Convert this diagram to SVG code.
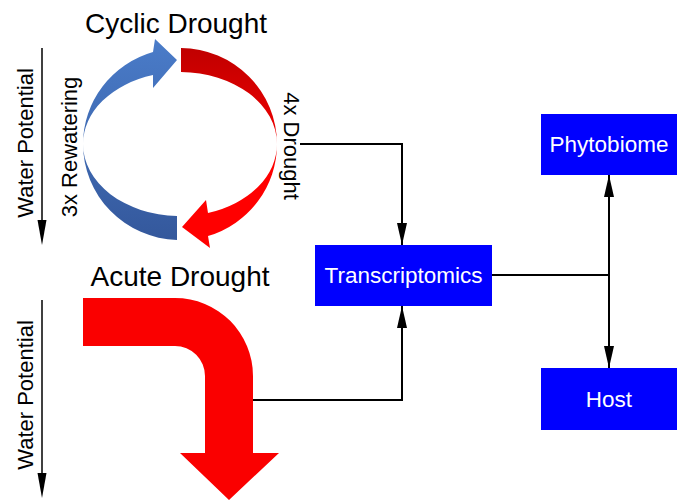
<svg xmlns="http://www.w3.org/2000/svg" width="682" height="500" viewBox="0 0 682 500">
<style>
text{font-family:"Liberation Sans",Arial,sans-serif;}
.t{font-size:28px;fill:#000;text-anchor:middle;}
.s{font-size:22px;fill:#000;text-anchor:middle;}
.b{font-size:22.5px;fill:#fff;text-anchor:middle;}
.box{fill:#0000ff;}
.ln{fill:none;stroke:#000;stroke-width:2;}
</style>
<defs>
<marker id="ah" viewBox="0 0 22 10" refX="22" refY="5" markerWidth="22" markerHeight="10" markerUnits="userSpaceOnUse" orient="auto">
<path d="M0,0 L22,5 L0,10 Z" fill="#000"/>
</marker>
<linearGradient id="gb" x1="0" y1="0" x2="0" y2="1">
<stop offset="0" stop-color="#4a7cc9"/>
<stop offset="1" stop-color="#34589c"/>
</linearGradient>
<linearGradient id="gr" x1="0" y1="0" x2="0" y2="1">
<stop offset="0" stop-color="#c00000"/>
<stop offset="0.6" stop-color="#ff0000"/>
<stop offset="1" stop-color="#ff0000"/>
</linearGradient>
</defs>

<g id="cyclic">
<text class="t" x="176" y="33">Cyclic Drought</text>
<path d="M177,240 A97,96 0 0 1 83,144 A97,96 0 0 1 153,52 L155,39 L177,60 L153,88 L153,75 A97,72 0 0 0 83,144 A97,72 0 0 0 177,216 Z" fill="url(#gb)"/>
<path d="M181,48 A97,96 0 0 1 277,144 A97,96 0 0 1 208,236 L210,248 L182,227 L206,200 L208,213 A97,72 0 0 0 277,144 A97,72 0 0 0 181,72 Z" fill="url(#gr)"/>
<text class="s" transform="translate(77,147) rotate(-90)">3x Rewatering</text>
<text class="s" transform="translate(284,146) rotate(90)">4x Drought</text>
<text class="s" transform="translate(33,143) rotate(-90)">Water Potential</text>
<line x1="42" y1="48" x2="42" y2="225" stroke="#000" stroke-width="1.5"/>
<path d="M37.5,220 L46.5,220 L42,245 Z" fill="#000"/>
</g>

<g id="acute">
<text class="t" x="180" y="286">Acute Drought</text>
<path d="M83,298 L175,298 A78,78 0 0 1 253,376 L253,453 L279,453 L229,500 L180,453 L205,453 L205,376 A30,30 0 0 0 175,346 L83,346 Z" fill="#fa0000"/>
<text class="s" transform="translate(33,395) rotate(-90)">Water Potential</text>
<line x1="42" y1="300" x2="42" y2="478" stroke="#000" stroke-width="1.5"/>
<path d="M37.5,473 L46.5,473 L42,498 Z" fill="#000"/>
</g>

<g id="transcriptomics">
<rect class="box" x="315" y="245" width="177" height="61"/>
<text class="b" x="403.5" y="283">Transcriptomics</text>
</g>
<g id="phytobiome">
<rect class="box" x="541" y="114" width="136" height="61"/>
<text class="b" x="609" y="152">Phytobiome</text>
</g>
<g id="host">
<rect class="box" x="541" y="368" width="136" height="62"/>
<text class="b" x="609" y="407">Host</text>
</g>

<g id="connectors">
<path class="ln" d="M300,144 L402,144 L402,245" marker-end="url(#ah)"/>
<path class="ln" d="M253,400 L402,400 L402,306" marker-end="url(#ah)"/>
<path class="ln" d="M492,275 L609,275"/>
<path class="ln" d="M609,275 L609,175" marker-end="url(#ah)"/>
<path class="ln" d="M609,275 L609,368" marker-end="url(#ah)"/>
</g>
</svg>
